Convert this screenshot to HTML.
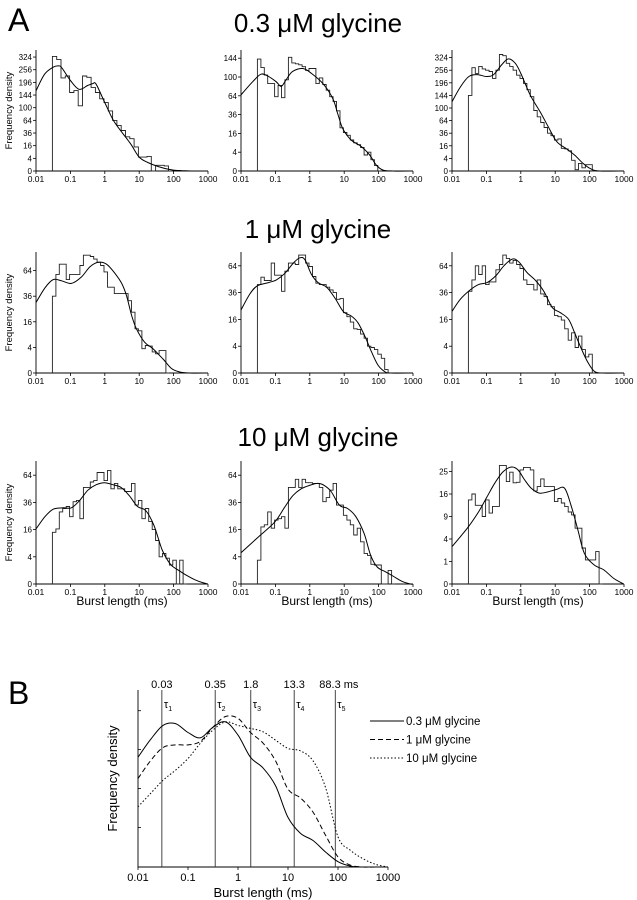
<!DOCTYPE html>
<html><head><meta charset="utf-8"><style>
html,body{margin:0;padding:0;background:#fff;}
svg{display:block;font-family:"Liberation Sans",sans-serif;}
</style></head><body>
<svg id="fig" width="637" height="900" viewBox="0 0 637 900" xmlns="http://www.w3.org/2000/svg">
<text x="8" y="31" font-size="32">A</text>
<text x="318" y="32" font-size="26" text-anchor="middle">0.3 μM glycine</text>
<text x="318" y="238" font-size="26" text-anchor="middle">1 μM glycine</text>
<text x="318" y="446" font-size="26" text-anchor="middle">10 μM glycine</text>
<text x="8" y="704" font-size="32">B</text>
<g id="panels"></g>
<g id="bpanel"></g>
</svg>
<script>
// ---- Panel A data: fit curves (log10 ms, sqrt frequency density) ----
const xTickLabels = ["0.01","0.1","1","10","100","1000"];
const fitLogR1C1 = [-2,-1.75,-1.5,-1.35,-1.25,-1,-0.75,-0.5,-0.35,-0.25,0,0.25,0.5,0.75,1,1.25,1.5,1.75,2,2.25,2.5,3];
const fitR1C1 = [12.66,15.3,16.4,16.6,16.3,14.3,12.9,13.5,13.8,13.7,10.8,8.0,6.1,4.3,2.2,1.35,0.8,0.4,0.15,0.05,0,0];
const fitLogR1C2 = [-2,-1.66,-1.42,-1.22,-0.98,-0.83,-0.69,-0.5,-0.2,0.04,0.38,0.67,0.82,0.96,1.2,1.5,1.74,1.93,2.13,2.42,3];
const fitR1C2 = [8.1,9.5,10.3,10.1,9.5,9.0,9.7,10.6,10.9,10.4,9.3,7.7,6.0,4.5,3.3,2.6,1.7,0.64,0.1,0,0];
const fitLogR1C3 = [-2,-1.75,-1.51,-1.27,-1,-0.79,-0.55,-0.36,-0.16,0,0.27,0.56,0.8,1.04,1.33,1.57,1.81,2.05,2.3,3];
const fitR1C3 = [11.0,13.4,15.0,15.3,15.0,15.3,16.9,17.8,17.1,15.5,12.1,9.4,7.0,4.7,3.5,2.5,1.2,0.3,0,0];
const fitLogR2C1 = [-2,-1.74,-1.5,-1.26,-0.97,-0.68,-0.43,-0.19,0.05,0.29,0.49,0.63,0.78,0.92,1.16,1.4,1.69,1.94,2.18,2.47,3];
const fitR2C1 = [5.5,6.65,7.3,7.2,7.0,7.5,8.3,8.65,8.5,7.8,7.0,6.05,4.5,3.45,2.4,1.9,1.1,0.35,0.08,0,0];
const fitLogR2C2 = [-2,-1.74,-1.53,-1.2,-0.97,-0.72,-0.48,-0.29,-0.14,0.05,0.24,0.49,0.73,0.97,1.21,1.4,1.6,1.79,1.98,2.18,2.37,3];
const fitR2C2 = [4.7,5.9,6.5,6.75,6.95,7.45,8.2,8.6,8.45,7.35,6.75,6.4,5.6,4.6,4.25,3.75,2.75,1.6,0.6,0.1,0,0];
const fitLogR2C3 = [-2,-1.76,-1.47,-1.23,-0.98,-0.73,-0.49,-0.25,-0.06,0.18,0.43,0.67,0.91,1.15,1.39,1.58,1.77,1.96,2.15,2.4,3];
const fitR2C3 = [4.6,5.5,6.2,6.6,6.75,7.25,8.0,8.5,8.3,7.5,6.9,6.1,4.9,4.5,4.0,2.9,1.75,0.75,0.1,0,0];
const fitLogR3C1 = [-2,-1.74,-1.5,-1.21,-0.97,-0.73,-0.49,-0.25,-0.01,0.23,0.47,0.71,0.95,1.19,1.43,1.67,1.91,2.15,2.4,2.63,2.88,3];
const fitR3C1 = [4.05,4.95,5.5,5.6,5.6,6.15,6.9,7.3,7.45,7.3,7.1,6.5,5.7,5.4,4.3,2.5,1.45,1.0,0.6,0.3,0.07,0];
const fitLogR3C2 = [-2,-1.5,-1.02,-0.73,-0.49,-0.25,-0.01,0.23,0.42,0.62,0.86,1.1,1.34,1.58,1.77,1.96,2.2,2.44,2.68,2.92,3];
const fitR3C2 = [2.3,3.45,4.55,5.65,6.5,7.0,7.25,7.4,7.25,6.8,5.8,5.55,4.95,3.7,2.1,1.25,0.9,0.55,0.2,0,0];
const fitLogR3C3 = [-2,-1.76,-1.52,-1.23,-0.99,-0.75,-0.51,-0.27,-0.08,0.11,0.3,0.54,0.8,1.03,1.27,1.46,1.66,1.85,2.13,2.42,2.7,2.99];
const fitR3C3 = [1.66,2.1,2.55,3.2,3.85,4.5,5.0,5.2,5.07,4.63,4.26,4.04,4.1,4.2,4.26,3.5,2.4,1.36,0.85,0.62,0.25,0];
// ---- histogram bins (sqrt frequency density), starting at 0.03 ms ----
const histR1C1 = [18.1,17.6,14.7,15.0,12.4,12.7,10.3,15.0,14.8,13.2,12.4,11.4,10.8,9.5,8.0,7.2,6.4,5.4,5.1,3.8,2.2,2.2,2.3,0,0.9,0.9,0.8,0];
const histR1C2 = [11.9,11.0,10.2,9.3,9.3,7.9,9.1,7.8,9.7,12.1,11.5,11.4,11.3,11.1,10.7,10.9,10.9,9.3,9.9,9.2,8.6,7.9,7.4,6.4,4.6,4.1,3.8,3.3,3.0,2.8,2.5,1.7,2.0,1.2,0.6,0];
const histR1C3 = [12.0,16.4,15.5,16.6,16.2,16.0,15.8,14.7,16.0,18.5,18.3,17.1,16.6,16.0,15.2,14.7,13.9,12.9,11.8,9.6,8.6,7.7,6.9,6.0,5.6,4.9,5.1,3.6,3.5,3.2,1.7,0.2,1.2,0.5,1.0,1.0,0];
const histR2C1 = [6.0,7.7,8.5,8.5,7.3,7.7,7.7,7.7,8.4,9.2,9.2,9.1,8.9,8.65,8.4,7.9,6.7,6.7,6.2,6.2,6.2,6.2,5.65,4.75,3.45,3.3,1.9,2.15,2.1,1.65,1.5,1.75,1.75,0];
const histR2C2 = [6.6,7.15,6.9,6.9,8.2,7.3,7.3,6.1,7.6,8.2,8.2,8.1,8.8,8.8,8.2,7.95,7.2,6.7,6.6,6.6,6.4,6.2,6.0,5.5,5.55,4.5,4.2,3.8,3.3,3.25,2.9,2.6,2.0,1.9,1.75,1.4,1.1,0.25,0];
const histR2C3 = [6.1,6.95,8.0,7.35,8.0,6.6,6.8,6.8,7.7,8.1,8.8,8.55,8.2,8.4,8.1,7.8,6.95,6.6,6.6,6.2,6.95,5.9,5.7,5.1,4.95,4.3,4.2,3.95,3.3,2.45,3.0,1.9,2.75,1.75,1.2,1.4,0];
const histR3C1 = [3.8,4.05,5.3,5.55,5.7,4.95,6.05,6.15,4.8,7.1,7.1,7.5,7.6,8.2,8.2,7.6,8.35,7.0,7.4,7.0,7.0,6.8,6.8,7.4,5.8,6.15,4.8,5.55,4.6,4.0,3.2,2.0,2.25,1.9,1.4,1.75,0,1.75,0];
const histR3C2 = [1.75,4.2,4.35,5.3,4.1,4.7,4.8,4.95,4.1,7.1,7.1,7.7,7.1,7.7,7.45,7.45,7.4,7.4,7.1,6.05,6.35,6.9,7.4,5.8,5.8,5.05,4.7,4.35,3.6,4.1,3.1,2.25,2.1,1.45,1.4,1.4,0,0,1.0,0];
const histR3C3 = [3.74,4.0,3.5,3.5,3.0,3.74,3.15,3.45,3.45,5.27,5.27,4.55,4.97,4.5,4.52,5.07,5.18,5.18,5.07,4.14,4.33,4.67,4.33,4.33,4.33,3.66,3.8,3.6,3.44,3.2,3.07,2.48,2.48,1.6,1.07,1.07,1.07,1.44,0];
const yTicksBig = [0,4,16,36,64,100,144,196,256,324];
const yTicksMid = [0,4,16,36,64,100,144];
const yTicksSmall = [0,4,16,36,64];
const yTicksTiny = [0,1,4,9,16,25];
const histStartMs = 0.03;

// ---- Panel B data (relative density, 0..1) ----
const bLogX = [-2,-1.75,-1.5,-1.25,-1,-0.75,-0.5,-0.25,0,0.25,0.5,0.75,1,1.25,1.5,1.75,2,2.25,2.5,2.75,3];
const bSolid = [0.62,0.72,0.80,0.81,0.76,0.73,0.79,0.82,0.745,0.62,0.56,0.46,0.28,0.19,0.15,0.085,0.03,0.005,0,0,0];
const bDashed = [0.5,0.6,0.675,0.69,0.69,0.71,0.79,0.85,0.84,0.76,0.70,0.60,0.44,0.39,0.31,0.18,0.057,0.01,0,0,0];
const bDotted = [0.34,0.415,0.49,0.547,0.613,0.70,0.774,0.82,0.80,0.783,0.764,0.717,0.67,0.656,0.60,0.45,0.17,0.094,0.047,0.015,0];
const tauValues = [0.03,0.35,1.8,13.3,88.3];
const tauLabels = ["0.03","0.35","1.8","13.3","88.3 ms"];
const bYTicks = [0,0.223,0.443,0.664,0.883];
const legendLabels = ["0.3 μM glycine","1   μM glycine","10  μM glycine"];

const NS="http://www.w3.org/2000/svg";
function mk(tag,attrs,parent){const e=document.createElementNS(NS,tag);for(const k in attrs)e.setAttribute(k,attrs[k]);parent.appendChild(e);return e;}
function smooth(pts){let d="M"+pts[0][0].toFixed(1)+","+pts[0][1].toFixed(1);
 for(let i=0;i<pts.length-1;i++){const p0=pts[Math.max(0,i-1)],p1=pts[i],p2=pts[i+1],p3=pts[Math.min(pts.length-1,i+2)];
  const c1=[p1[0]+(p2[0]-p0[0])/6,p1[1]+(p2[1]-p0[1])/6],c2=[p2[0]-(p3[0]-p1[0])/6,p2[1]-(p3[1]-p1[1])/6];
  d+=" C"+c1[0].toFixed(1)+","+c1[1].toFixed(1)+" "+c2[0].toFixed(1)+","+c2[1].toFixed(1)+" "+p2[0].toFixed(1)+","+p2[1].toFixed(1);}
 return d;}

const colX=[36,241,452], W=172, rowBase=[171,373,584], rowTop=[50,252,461];
const panels=[
 {r:0,c:0,k:6.33,bw:0.125,fl:fitLogR1C1,fit:fitR1C1,hist:histR1C1,ticks:yTicksBig},
 {r:0,c:1,k:9.4,bw:0.1,fl:fitLogR1C2,fit:fitR1C2,hist:histR1C2,ticks:yTicksMid},
 {r:0,c:2,k:6.3,bw:0.1,fl:fitLogR1C3,fit:fitR1C3,hist:histR1C3,ticks:yTicksBig},
 {r:1,c:0,k:12.8,bw:0.1,fl:fitLogR2C1,fit:fitR2C1,hist:histR2C1,ticks:yTicksSmall},
 {r:1,c:1,k:13.4,bw:0.1,fl:fitLogR2C2,fit:fitR2C2,hist:histR2C2,ticks:yTicksSmall},
 {r:1,c:2,k:13.4,bw:0.1,fl:fitLogR2C3,fit:fitR2C3,hist:histR2C3,ticks:yTicksSmall},
 {r:2,c:0,k:13.6,bw:0.1,fl:fitLogR3C1,fit:fitR3C1,hist:histR3C1,ticks:yTicksSmall},
 {r:2,c:1,k:13.6,bw:0.1,fl:fitLogR3C2,fit:fitR3C2,hist:histR3C2,ticks:yTicksSmall},
 {r:2,c:2,k:22.5,bw:0.1,fl:fitLogR3C3,fit:fitR3C3,hist:histR3C3,ticks:yTicksTiny}];
const root=document.getElementById('panels');
panels.forEach(p=>{
 const x0=colX[p.c], yb=rowBase[p.r], yt=rowTop[p.r];
 const XL=l=>x0+(l+2)/5*W;
 const X=ms=>XL(Math.log10(ms));
 const Y=s=>yb-s*p.k;
 const g=mk('g',{},root);
 
 
 const ax=mk('path',{d:`M${x0},${yt} V${yb} H${x0+W}`,fill:'none',stroke:'#000','stroke-width':0.9},g);
 
 
 xTickLabels.forEach((t,i)=>{const x=x0+i*W/5;
  mk('line',{x1:x,x2:x,y1:yb,y2:yb+3,stroke:'#000','stroke-width':0.8},g);
  const tx=mk('text',{x:x,y:yb+11,'font-size':8.5,'text-anchor':'middle'},g);tx.textContent=t;
  
  });
 p.ticks.forEach(v=>{const y=Y(Math.sqrt(v));
  mk('line',{x1:x0,x2:x0-3,y1:y,y2:y,stroke:'#000','stroke-width':0.8},g);
  const tx=mk('text',{x:x0-4,y:y+3,'font-size':8,'text-anchor':'end'},g);tx.textContent=v;
  
  });
 const l0=Math.log10(histStartMs);
 let d=`M${X(histStartMs).toFixed(1)},${yb}`;
 p.hist.forEach((v,i)=>{const xb=XL(l0+(i+1)*p.bw);
  d+=` V${Y(v).toFixed(1)} H${xb.toFixed(1)}`;});
 d+=` V${yb}`;
 const h=mk('path',{d:d,fill:'none',stroke:'#222','stroke-width':0.9},g);
 
 
 const f=mk('path',{d:smooth(p.fl.map((l,i)=>[XL(l),Y(p.fit[i])])),fill:'none',stroke:'#000','stroke-width':1},g);
 
 
 if(p.c===0){const yl=mk('text',{x:0,y:0,'font-size':9.5,'text-anchor':'middle',transform:`translate(12,${(yt+yb)/2}) rotate(-90)`},g);yl.textContent='Frequency density';
  
  }
 if(p.r===2){const xl=mk('text',{x:x0+W/2,y:yb+21,'font-size':12,'text-anchor':'middle'},g);xl.textContent='Burst length (ms)';
  
  }
});

// Panel B
const bg=document.getElementById('bpanel');
const bx0=138,bx1=388,byb=867,byt=690;
const BX=l=>bx0+(l+2)/5*(bx1-bx0);
const BY=v=>byb-v*(byb-byt);
const bax=mk('path',{d:`M${bx0},${byt} V${byb} H${bx1}`,fill:'none',stroke:'#000','stroke-width':0.9},bg);


xTickLabels.forEach((t,i)=>{const x=bx0+i*(bx1-bx0)/5;
 mk('line',{x1:x,x2:x,y1:byb,y2:byb+3,stroke:'#000','stroke-width':0.8},bg);
 const tx=mk('text',{x:x,y:byb+14,'font-size':11,'text-anchor':'middle'},bg);tx.textContent=t;
 
 });
bYTicks.forEach(v=>{mk('line',{x1:bx0,x2:bx0+3,y1:BY(v),y2:BY(v),stroke:'#000','stroke-width':0.8},bg);});
const bxl=mk('text',{x:(bx0+bx1)/2,y:897,'font-size':13,'text-anchor':'middle'},bg);bxl.textContent='Burst length (ms)';


const byl=mk('text',{x:0,y:0,'font-size':13,'text-anchor':'middle',transform:`translate(117,${(byt+byb)/2}) rotate(-90)`},bg);byl.textContent='Frequency density';


tauValues.forEach((t,i)=>{const x=BX(Math.log10(t));
 const ln=mk('line',{x1:x,x2:x,y1:byt,y2:byb,stroke:'#333','stroke-width':0.9},bg);
 
 
 const lb=mk('text',{x:i===4?x-16:x,y:688,'font-size':11,'text-anchor':i===4?'start':'middle'},bg);lb.textContent=tauLabels[i];
 
 
 const tl=mk('text',{x:x+2,y:708,'font-size':11},bg);tl.textContent='τ';
 const sb=mk('tspan',{'font-size':7,dy:3},tl);sb.textContent=String(i+1);
 
 });
const styles=[{s:bSolid,dash:''},{s:bDashed,dash:'5,3'},{s:bDotted,dash:'1.5,2'}];
styles.forEach((st,i)=>{
 const c=mk('path',{d:smooth(bLogX.map((l,j)=>[BX(l),BY(st.s[j])])),fill:'none',stroke:'#000','stroke-width':1,'stroke-dasharray':st.dash},bg);
 
 
 const ly=725+i*18.5;
 const ll=mk('line',{x1:370,x2:404,y1:ly-4,y2:ly-4,stroke:'#000','stroke-width':1,'stroke-dasharray':st.dash},bg);
 
 
 const lt=mk('text',{x:406,y:ly,'font-size':11.5,'xml:space':'preserve'},bg);lt.textContent=legendLabels[i];
 
 
});
</script>
</body></html>
